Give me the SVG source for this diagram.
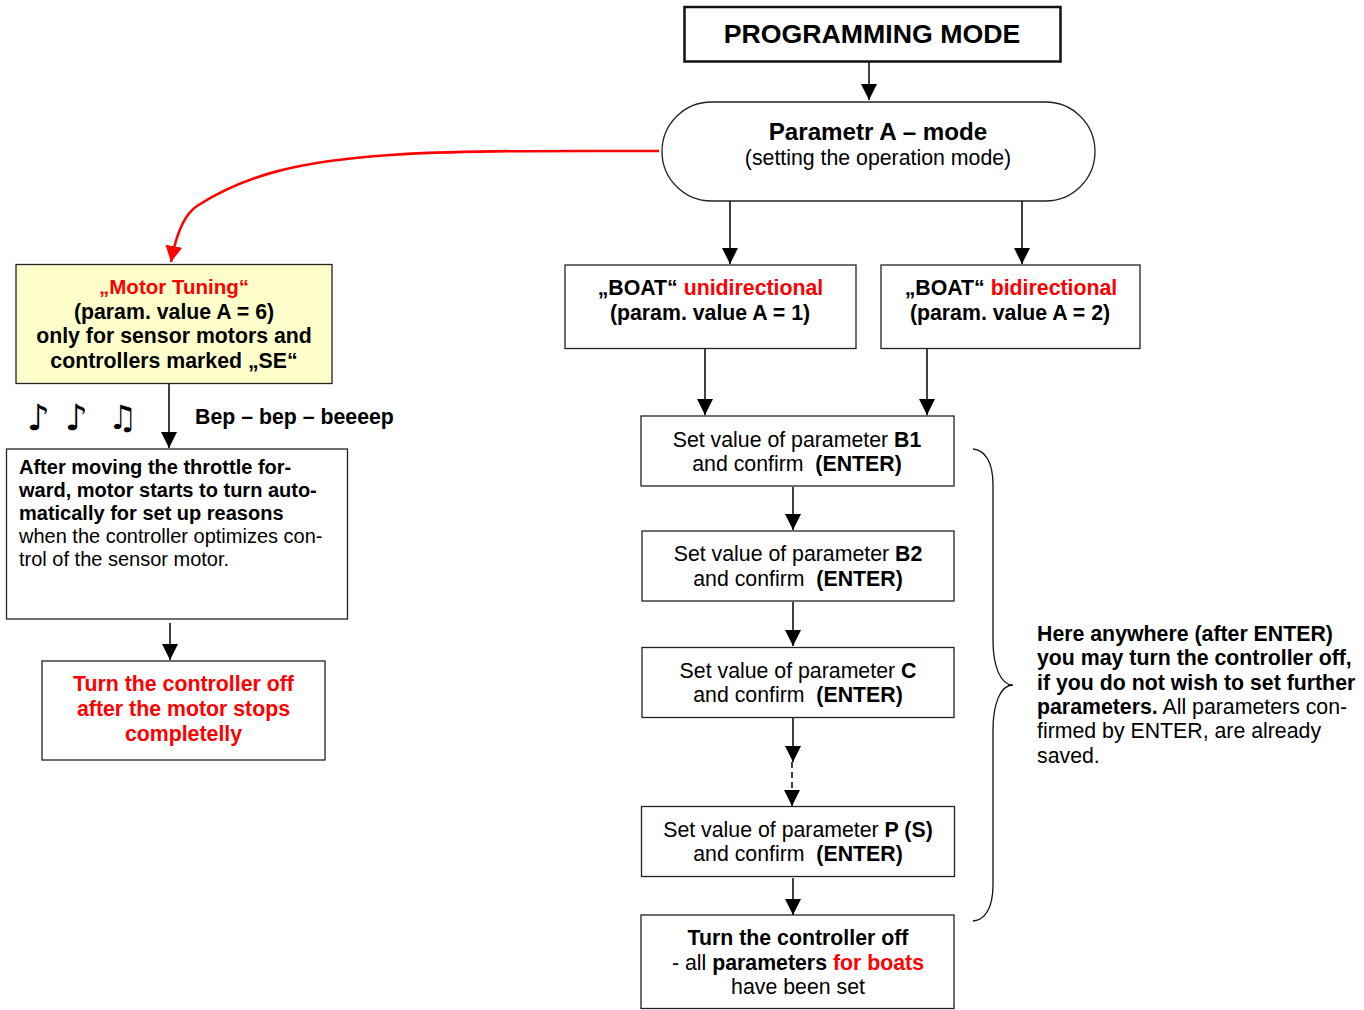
<svg xmlns="http://www.w3.org/2000/svg" width="1364" height="1010" viewBox="0 0 1364 1010">
<style>
text{font-family:"Liberation Sans",Arial,sans-serif;font-size:21.300px;fill:#000}
.m{text-anchor:middle}
.b{font-weight:700}
.r{fill:#f00}
.s{font-size:20px}
.box{fill:#fff;stroke:#222;stroke-width:1.300}
.c{fill:none;stroke:#111;stroke-width:1.600}
.note{font-family:"DejaVu Sans",sans-serif;font-size:36px;font-weight:700}
</style>
<defs>
<marker id="a" markerUnits="userSpaceOnUse" markerWidth="17" markerHeight="17" refX="16" refY="8.500" orient="auto"><path d="M0 0.500L16 8.500L0 16.500z" fill="#000"/></marker>
<marker id="ar" markerUnits="userSpaceOnUse" markerWidth="17" markerHeight="17" refX="16" refY="8.500" orient="auto"><path d="M0 0L16 8.500L0 17z" fill="#f00"/></marker>
</defs>
<g id="connectors">
<path class="c" marker-end="url(#a)" d="M869 62V100"/>
<path class="c" marker-end="url(#a)" d="M730 201V264"/>
<path class="c" marker-end="url(#a)" d="M1022 201V264"/>
<path class="c" marker-end="url(#a)" d="M705 349V415"/>
<path class="c" marker-end="url(#a)" d="M927 349V415"/>
<path class="c" marker-end="url(#a)" d="M793 487V530"/>
<path class="c" marker-end="url(#a)" d="M793 602V646"/>
<path class="c" marker-end="url(#a)" d="M793 718V762"/>
<path class="c" stroke-dasharray="6 4" marker-end="url(#a)" d="M792 762V806"/>
<path class="c" marker-end="url(#a)" d="M793 878V915"/>
<path class="c" marker-end="url(#a)" d="M169 384V448"/>
<path class="c" marker-end="url(#a)" d="M170 623V660"/>
<path fill="none" stroke="#f00" stroke-width="2.600" marker-end="url(#ar)" d="M659 151C560 151 460 150 390 155C300 161 245 175 197 206C182 216 175 240 171 262"/>
<path fill="none" stroke="#111" stroke-width="1.300" d="M973 449C985 450 993 462 993 485V640C993 665 1000 685 1013 685C1000 685 993 705 993 730V885C993 908 985 920 973 921"/>
</g>
<g id="title"><rect x="684.500" y="7" width="376" height="54.500" fill="#fff" stroke="#111" stroke-width="2.500"/><text class="m b" x="872" y="43" style="font-size:26.700px">PROGRAMMING MODE</text></g>
<g id="paramA"><rect class="box" x="662" y="102" width="433" height="99" rx="49.500"/><text class="m b" x="878" y="140" style="font-size:24.200px">Parametr A – mode</text><text class="m" x="878" y="165">(setting the operation mode)</text></g>
<g id="tuning"><rect x="16" y="264.500" width="316" height="119" fill="#ffc" stroke="#222" stroke-width="1.300"/><text class="m b r" x="174" y="294" style="font-size:20.500px">„Motor Tuning“</text><text class="m b" x="174" y="319">(param. value A = 6)</text><text class="m b" x="174" y="343">only for sensor motors and</text><text class="m b" x="174" y="368">controllers marked „SE“</text></g>
<g id="uni"><rect class="box" x="565" y="265" width="291" height="83.500"/><text class="m" x="710.500" y="295"><tspan class="b">„BOAT“ </tspan><tspan class="b r">unidirectional</tspan></text><text class="m b" x="710" y="319.500">(param. value A = 1)</text></g>
<g id="bi"><rect class="box" x="881" y="265" width="259" height="83.500"/><text class="m" x="1011" y="295"><tspan class="b">„BOAT“ </tspan><tspan class="b r">bidirectional</tspan></text><text class="m b" x="1010" y="319.500">(param. value A = 2)</text></g>
<g id="beeps"><text class="note" x="27" y="430">♪</text><text class="note" x="65" y="430">♪</text><text class="note" x="108" y="429" style="font-size:33px">♫</text><text class="b" x="195" y="424">Bep – bep – beeeep</text></g>
<g id="moving"><rect class="box" x="6.500" y="449" width="341" height="170"/><text class="b s" x="19" y="474">After moving the throttle for-</text><text class="b s" x="19" y="497">ward, motor starts to turn auto-</text><text class="b s" x="19" y="520">matically for set up reasons</text><text class="s" x="19" y="543">when the controller optimizes con-</text><text class="s" x="19" y="566">trol of the sensor motor.</text></g>
<g id="off1"><rect class="box" x="42" y="661" width="283" height="99"/><text class="m b r" x="183.500" y="691">Turn the controller off</text><text class="m b r" x="183.500" y="716">after the motor stops</text><text class="m b r" x="183.500" y="741">completelly</text></g>
<g id="b1"><rect class="box" x="641" y="416" width="313" height="70"/><text class="m" x="797" y="447">Set value of parameter <tspan class="b">B1</tspan></text><text class="m" x="797" y="471" xml:space="preserve">and confirm  <tspan class="b">(ENTER)</tspan></text></g>
<g id="b2"><rect class="box" x="642" y="531" width="312" height="70"/><text class="m" x="798" y="561">Set value of parameter <tspan class="b">B2</tspan></text><text class="m" x="798" y="586" xml:space="preserve">and confirm  <tspan class="b">(ENTER)</tspan></text></g>
<g id="c"><rect class="box" x="642" y="647.500" width="312" height="70"/><text class="m" x="798" y="678">Set value of parameter <tspan class="b">C</tspan></text><text class="m" x="798" y="702" xml:space="preserve">and confirm  <tspan class="b">(ENTER)</tspan></text></g>
<g id="p"><rect class="box" x="641.500" y="806.500" width="313" height="70"/><text class="m" x="798" y="837">Set value of parameter <tspan class="b">P (S)</tspan></text><text class="m" x="798" y="861" xml:space="preserve">and confirm  <tspan class="b">(ENTER)</tspan></text></g>
<g id="off2"><rect class="box" x="641" y="915" width="313" height="93.500"/><text class="m b" x="798" y="945">Turn the controller off</text><text class="m" x="798" y="970">- all <tspan class="b">parameters </tspan><tspan class="b r">for boats</tspan></text><text class="m" x="798" y="994">have been set</text></g>
<g id="here"><text class="b" x="1037" y="641">Here anywhere (after ENTER)</text><text class="b" x="1037" y="665">you may turn the controller off,</text><text class="b" x="1037" y="690">if you do not wish to set further</text><text x="1037" y="714"><tspan class="b">parameters.</tspan> All parameters con-</text><text x="1037" y="738">firmed by ENTER, are already</text><text x="1037" y="763">saved.</text></g>
</svg>
